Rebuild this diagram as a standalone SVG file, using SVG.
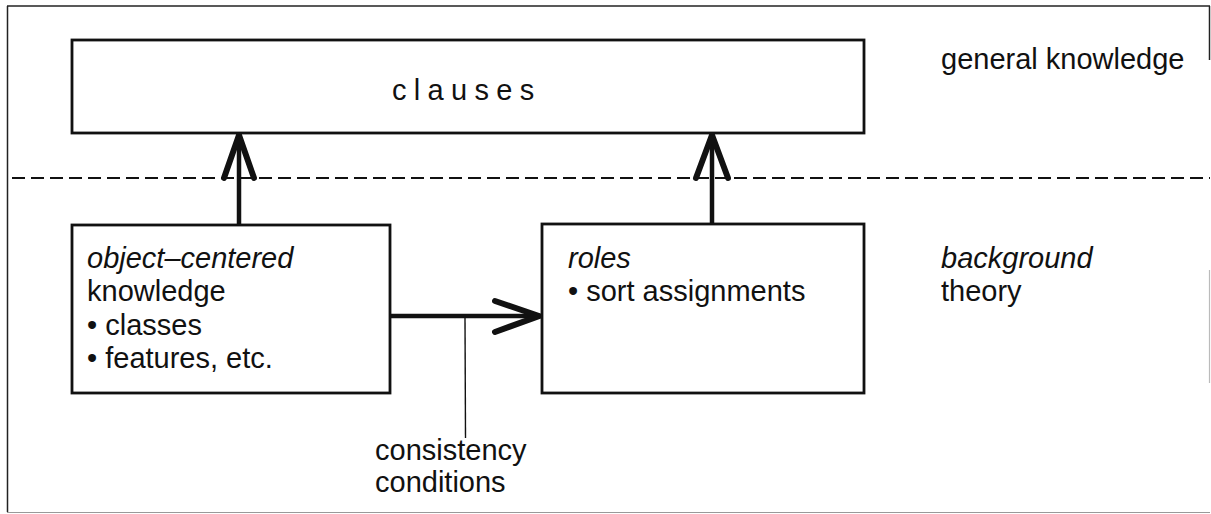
<svg xmlns="http://www.w3.org/2000/svg" width="1211" height="514" viewBox="0 0 1211 514">
  <style>
    .frame { fill: none; stroke: #222; stroke-width: 1.5; }
    .box { fill: #fff; stroke: #111; stroke-width: 2.8; }
    .sep { fill: none; stroke: #111; stroke-width: 2; stroke-dasharray: 13 6; }
    .shaft { fill: none; stroke: #111; stroke-width: 4.5; }
    .head { fill: none; stroke: #111; stroke-width: 6; stroke-linecap: round; stroke-linejoin: miter; stroke-miterlimit: 20; }
    .thin { fill: none; stroke: #111; stroke-width: 1.4; }
    .t { font-family: "Liberation Sans", Arial, Helvetica, sans-serif; font-size: 29px; fill: #111; }
    .it { font-style: italic; }
  </style>

  <rect x="0" y="0" width="1211" height="514" fill="#fff"/>

  <!-- outer frame -->
  <g id="frame">
    <line class="frame" x1="7" y1="6" x2="1210" y2="6"/>
    <line class="frame" x1="7.5" y1="6" x2="7.5" y2="512"/>
    <line class="frame" x1="1209.5" y1="6" x2="1209.5" y2="60"/>
    <line x1="1209.5" y1="270" x2="1209.5" y2="383" stroke="#bbb" stroke-width="1.2"/>
    <line x1="7" y1="512.5" x2="1210" y2="512.5" stroke="#999" stroke-width="1.2"/>
  </g>

  <!-- level separator -->
  <line id="separator" class="sep" x1="12" y1="178" x2="1210" y2="178"/>

  <!-- connectors -->
  <g id="connectors">
    <!-- object-centered knowledge -> clauses -->
    <line class="shaft" x1="239" y1="225" x2="239" y2="136"/>
    <polyline class="head" points="224,178 239,135 254,178"/>
    <!-- roles -> clauses -->
    <line class="shaft" x1="712" y1="224" x2="712" y2="136"/>
    <polyline class="head" points="696,178 712,135 728,178"/>
    <!-- object-centered knowledge -> roles -->
    <line class="shaft" x1="388" y1="316" x2="538" y2="316" stroke-width="5.5"/>
    <polyline class="head" points="495,301 539,316 495,332" stroke-width="7"/>
    <!-- label leader -->
    <line class="thin" x1="465" y1="318" x2="465.5" y2="438"/>
  </g>

  <!-- general knowledge -->
  <g id="clauses">
    <rect class="box" x="72" y="40" width="792" height="93"/>
    <text class="t" x="392" y="100" letter-spacing="7.3">clauses</text>
  </g>

  <g id="label-general">
    <text class="t" x="941" y="69">general knowledge</text>
  </g>

  <!-- background theory -->
  <g id="object-centered">
    <rect class="box" x="72" y="225" width="318" height="168"/>
    <text class="t it" x="87" y="268">object–centered</text>
    <text class="t" x="87" y="301">knowledge</text>
    <text class="t" x="87" y="335">• classes</text>
    <text class="t" x="87" y="368">• features, etc.</text>
  </g>

  <g id="roles">
    <rect class="box" x="542" y="224" width="322" height="169"/>
    <text class="t it" x="568" y="268">roles</text>
    <text class="t" x="568" y="301">• sort assignments</text>
  </g>

  <g id="label-background">
    <text class="t it" x="941" y="268">background</text>
    <text class="t" x="941" y="301">theory</text>
  </g>

  <g id="label-consistency">
    <text class="t" x="375" y="460">consistency</text>
    <text class="t" x="375" y="492">conditions</text>
  </g>
</svg>
